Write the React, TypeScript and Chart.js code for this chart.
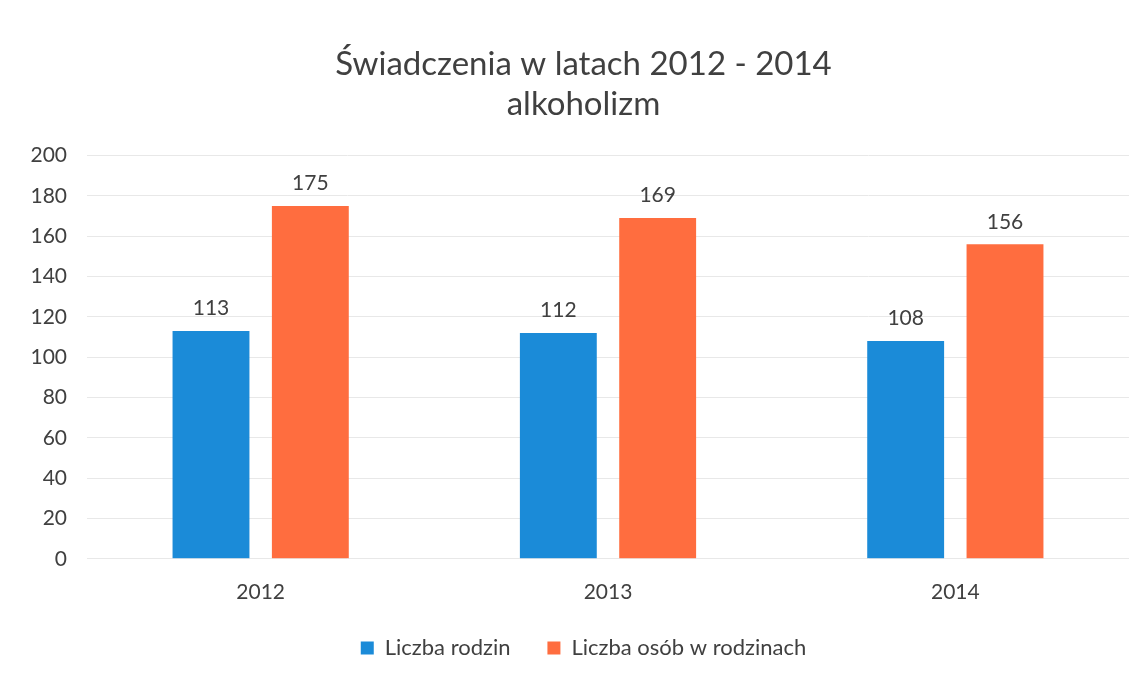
import React, { useEffect, useRef } from "react";
import { Chart, registerables } from "chart.js";

Chart.register(...registerables);

const categories = ["2012", "2013", "2014"];
const familiesSeries = [113, 112, 108];
const personsSeries = [175, 169, 156];
const seriesNames = ["Liczba rodzin", "Liczba osób w rodzinach"];
const titleLines = ["Świadczenia w latach 2012 - 2014", "alkoholizm"];

const FONT = "Lato, 'Open Sans', sans-serif";

const valueLabels = {
  id: "valueLabels",
  afterDatasetsDraw(chart: any) {
    const ctx = chart.ctx;
    ctx.save();
    ctx.font = `21px ${FONT}`;
    ctx.fillStyle = "#404040";
    ctx.textAlign = "center";
    ctx.textBaseline = "bottom";
    chart.data.datasets.forEach((ds: any, i: number) => {
      const meta = chart.getDatasetMeta(i);
      meta.data.forEach((el: any, j: number) => {
        ctx.fillText(String(ds.data[j]), el.x, el.y - 12);
      });
    });
    ctx.restore();
  },
};

// let the narrowed y axis draw its labels into the left padding
const widenYLabelArea = {
  id: "widenYLabelArea",
  afterLayout(chart: any) {
    if (chart.scales.y) chart.scales.y.left = 0;
  },
};

export default function App() {
  const ref = useRef<HTMLCanvasElement | null>(null);
  useEffect(() => {
    if (!ref.current) return;
    const chart = new Chart(ref.current, {
      type: "bar",
      data: {
        labels: categories,
        datasets: [
          {
            label: seriesNames[0],
            data: familiesSeries,
            backgroundColor: "#1b8bd8",
            categoryPercentage: 0.572,
            barPercentage: 0.774,
          },
          {
            label: seriesNames[1],
            data: personsSeries,
            backgroundColor: "#ff6d3f",
            categoryPercentage: 0.572,
            barPercentage: 0.774,
          },
        ],
      },
      options: {
        animation: false,
        responsive: false,
        maintainAspectRatio: false,
        layout: { padding: { left: 38, right: 18, top: 44, bottom: 5 } },
        plugins: {
          title: {
            display: true,
            text: titleLines,
            color: "#404040",
            font: { family: FONT, size: 33, weight: "normal", lineHeight: 1.22 },
            padding: { top: 0, bottom: 31 },
          },
          legend: {
            position: "bottom",
            labels: {
              color: "#404040",
              font: { family: FONT, size: 22 },
              boxWidth: 13,
              boxHeight: 13,
              padding: 20,
              generateLabels: (chart: any) => {
                const items = Chart.defaults.plugins.legend.labels.generateLabels(chart);
                return items.map((it: any, i: number) =>
                  i < items.length - 1 ? { ...it, text: it.text + "   " } : it
                );
              },
            },
          },
          tooltip: { enabled: false },
        },
        scales: {
          x: {
            grid: { display: false },
            border: { display: false },
            ticks: { color: "#404040", font: { family: FONT, size: 21 }, padding: 12.5 },
          },
          y: {
            min: 0,
            max: 200,
            afterFit: (scale: any) => {
              scale.width = 49;
            },
            ticks: { stepSize: 20, color: "#404040", font: { family: FONT, size: 21 }, padding: 20 },
            grid: { color: "#e8e8e8", drawTicks: false },
            border: { display: false },
          },
        },
      },
      plugins: [valueLabels, widenYLabelArea],
    });
    return () => chart.destroy();
  }, []);
  return (
    <div style={{ position: "fixed", left: 0, top: 0, width: 1147, height: 674, background: "#fff" }}>
      <canvas ref={ref} width={1147} height={674} style={{ width: 1147, height: 674 }} />
    </div>
  );
}
